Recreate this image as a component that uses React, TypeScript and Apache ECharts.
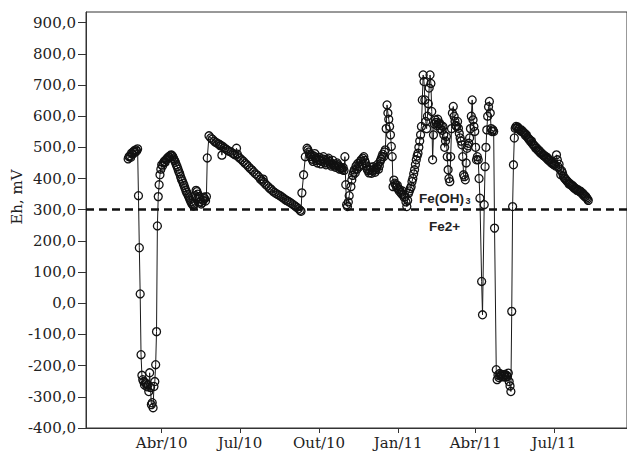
import React, { useEffect, useRef } from 'react';
import * as echarts from 'echarts';

// Day offsets since 2010-01-01 and Eh readings (mV)
const days = [
  51, 52, 53, 54, 55, 56, 57, 58, 59, 60, 61, 62, 63, 64, 65, 66, 67, 68, 69, 70,
  71, 72, 73, 74, 75, 76, 77, 78, 79, 80, 81, 82, 83, 84, 85, 86, 87, 88, 89, 90,
  91, 92, 93, 94, 95, 96, 97, 98, 99, 100, 101, 102, 103, 104, 105, 106, 107, 108, 109, 110,
  111, 112, 113, 114, 115, 116, 117, 118, 119, 120, 121, 122, 123, 124, 125, 126, 127, 128, 129, 130,
  131, 132, 133, 134, 135, 136, 137, 138, 139, 140, 141, 142, 143, 145,
  147, 149, 151, 153, 155, 157, 158, 159, 160, 161, 163, 165, 167, 169, 171, 173, 175, 177, 178, 179,
  181, 183, 185, 187, 189, 191, 193, 195, 197, 199, 201, 203, 205, 207, 208, 209, 211, 213, 215, 217,
  219, 221, 223, 225, 227, 229, 231, 233, 235, 237, 239, 241, 243, 245, 247, 249, 251, 252,
  253, 255, 257, 259, 260, 261, 262, 263, 264, 265, 266, 267, 268, 269, 270, 271, 272, 273, 274, 275,
  276, 277, 278, 279, 280, 281, 282, 283, 284, 285, 286, 287, 288, 289, 290, 291, 292, 293, 294, 295,
  296, 297, 298, 299, 300, 301, 302, 303, 304, 305, 306,
  307, 308, 310, 311, 312, 313, 314, 315, 316, 317, 318, 319, 320, 321, 322, 323, 324, 325, 326, 327,
  328, 329, 330, 331, 332, 333, 334, 335, 336, 337, 338, 339, 340, 341, 342, 343, 344, 345, 346, 347,
  348, 349, 350, 351, 352, 353, 354, 355, 356, 357, 358, 359, 360, 361, 362, 363, 364, 365, 366, 367,
  368, 369, 370, 371, 372, 373, 374, 375, 376, 377, 378, 379, 380, 381, 382, 383, 384, 385, 386, 387,
  388, 389, 390, 391, 392, 393, 394,
  395, 396, 397, 398, 399, 400, 401, 402, 403, 404, 405, 406, 407, 408, 409, 410, 411, 412, 413, 414,
  415, 416, 417, 418, 419, 420, 421, 422, 423, 424, 425, 426, 427, 428, 429, 430, 431, 432, 433, 434,
  435, 436, 437, 438, 439, 440, 441, 442, 443, 444, 445, 446, 447, 448, 449, 450, 451, 452, 453, 454,
  455, 456, 457, 458, 459, 460, 462, 463, 465, 466, 467, 468, 469, 470, 471, 472, 473, 474, 475, 476,
  477, 479, 480, 481, 482, 483, 484, 485, 486, 487, 488, 489, 490, 491, 492, 493, 494, 495, 496, 497,
  498, 499, 500, 501,
  502, 503, 504, 505, 506, 507, 508, 509, 510, 511, 512, 513, 514, 515, 516, 517, 518, 519, 520, 521,
  522, 523, 524, 525, 526, 527, 528, 529, 530, 531, 532, 533, 534, 535, 536, 537, 538, 539, 540, 541,
  542, 543, 544, 545, 546, 547, 548, 549, 550, 551, 552, 553, 554, 555, 556, 557, 558, 559, 560, 561,
  562, 563, 564, 565, 566, 567, 568, 569, 570, 571, 572, 573, 574, 575, 576, 577, 578, 579, 580, 581,
  582, 583, 584, 585, 586,
];

const eh = [
  463, 470, 473, 468, 482, 478, 485, 489, 484, 492, 488, 495, 345, 178, 30, -165, -231, -245, -251, -262,
  -255, -258, -268, -262, -283, -223, -270, -325, -319, -335, -267, -251, -197, -91, 248, 342, 380, 412, 430, 444,
  440, 450, 455, 452, 460, 463, 466, 470, 468, 473, 476, 474, 470, 463, 458, 452, 444, 438, 430, 422,
  415, 406, 398, 392, 385, 378, 370, 362, 356, 350, 344, 338, 331, 325, 320, 316, 312, 318, 345, 362,
  358, 350, 342, 335, 325, 318, 322, 330, 340, 335, 328, 342, 466, 537,
  530, 526, 520, 516, 512, 510, 505, 506, 475, 503, 498, 494, 490, 487, 484, 480, 476, 497, 478, 470,
  465, 460, 455, 449, 444, 438, 432, 427, 421, 415, 411, 405, 398, 392, 398, 388, 381, 376, 370, 366,
  360, 356, 352, 349, 346, 342, 338, 334, 330, 327, 324, 320, 316, 312, 308, 303, 298, 295,
  354, 412, 470, 497, 492, 485, 478, 470, 476, 462, 455, 472, 480, 466, 458, 450, 462, 468, 458, 447,
  455, 463, 470, 460, 450, 444, 452, 460, 465, 455, 446, 440, 448, 458, 445, 440, 436, 442, 450, 444,
  438, 430, 436, 432, 428, 435, 426, 470, 380, 316, 310,
  325, 345, 374, 395, 410, 420, 428, 418, 440, 430, 448, 440, 438, 455, 460, 445, 465, 470, 458, 450,
  440, 430, 425, 418, 428, 436, 417, 425, 438, 430, 420, 428, 436, 445, 430, 440, 455, 462, 470, 478,
  470, 485, 492, 560, 636, 610, 590, 567, 540, 503, 470, 374, 395, 385, 380, 372, 378, 368, 360, 364,
  355, 350, 360, 348, 340, 342, 325, 310, 330, 353, 360, 368, 374, 390, 400, 415, 428, 445, 460, 472,
  481, 500, 520, 540, 567, 652, 732,
  711, 652, 583, 560, 600, 640, 690, 732, 705, 615, 460, 540, 575, 588, 580, 570, 590, 575, 578, 560,
  570, 555, 567, 540, 500, 520, 535, 470, 428, 400, 390, 470, 560, 610, 631, 600, 583, 570, 567, 583,
  561, 545, 530, 520, 508, 470, 412, 406, 396, 450, 497, 505, 513, 530, 560, 600, 652, 588, 567, 551,
  500, 460, 470, 460, 400, 337, 70, -37, 316, 438, 500, 556, 600, 630, 647, 610, 560, 551, 556, 551,
  241, -213, -245, -230, -238, -225, -233, -228, -236, -230, -234, -228, -237, -231, -235, -224, -251, -265, -283, -26,
  310, 444, 530, 561,
  567, 562, 565, 560, 558, 553, 556, 550, 551, 546, 545, 538, 540, 533, 530, 526, 524, 518, 520, 512,
  508, 506, 503, 497, 498, 492, 488, 490, 484, 480, 481, 476, 473, 474, 470, 466, 468, 462, 458, 460,
  454, 450, 452, 447, 444, 446, 440, 476, 460, 438, 446, 430, 412, 425, 418, 408, 402, 400, 396, 392,
  390, 386, 382, 383, 379, 376, 377, 372, 368, 369, 366, 362, 364, 360, 358, 359, 355, 350, 352, 346,
  342, 343, 338, 334, 330,
];

const tickDates = ['2010-04-01', '2010-07-01', '2010-10-01', '2011-01-01', '2011-04-01', '2011-07-01'];
const tickLabels = ['Abr/10', 'Jul/10', 'Out/10', 'Jan/11', 'Abr/11', 'Jul/11'];
const yTicks = [-400, -300, -200, -100, 0, 100, 200, 300, 400, 500, 600, 700, 800, 900];
const boundaryEh = 300;
const upperLabel = 'Fe(OH)';
const upperSub = '3';
const lowerLabel = 'Fe2+';
const yName = 'Eh, mV';

const dayOf = (s: string) => {
  const [y, m, d] = s.split('-').map(Number);
  return (Date.UTC(y, m - 1, d) - Date.UTC(2010, 0, 1)) / 86400000;
};

export default function App() {
  const ref = useRef<HTMLDivElement>(null);
  useEffect(() => {
    if (!ref.current) return;
    const chart = echarts.init(ref.current, null, { renderer: 'svg' });
    const tickDays = tickDates.map(dayOf);
    const axisColor = '#333';
    const serif = '"DejaVu Serif", serif';
    chart.setOption({
      animation: false,
      backgroundColor: '#fff',
      grid: {
        left: 86, right: -2, top: 12, bottom: 24,
        show: true, borderColor: axisColor, borderWidth: 1, backgroundColor: 'transparent',
      },
      xAxis: {
        type: 'value', min: 2, max: 631,
        splitLine: { show: false },
        axisLine: { show: true, onZero: false, lineStyle: { color: axisColor, width: 1 } },
        axisTick: { show: true, length: 5, customValues: tickDays, lineStyle: { color: axisColor } },
        axisLabel: {
          customValues: tickDays,
          margin: 7,
          color: '#222', fontFamily: serif, fontSize: 15,
          formatter: (v: number) => {
            const i = tickDays.findIndex((d) => Math.abs(d - v) < 0.5);
            return i >= 0 ? tickLabels[i] : '';
          },
        },
      },
      yAxis: {
        type: 'value', min: -400, max: 934,
        splitLine: { show: false },
        axisLine: { show: true, onZero: false, lineStyle: { color: axisColor, width: 1 } },
        axisTick: { show: true, length: 8, customValues: yTicks, lineStyle: { color: axisColor } },
        axisLabel: {
          customValues: yTicks,
          margin: 10,
          color: '#222', fontFamily: serif, fontSize: 15,
          formatter: (v: number) => (v % 100 === 0 ? v.toFixed(1).replace('.', ',') : ''),
        },
      },
      series: [
        {
          type: 'line',
          data: days.map((d, i) => [d, eh[i]]),
          symbol: 'circle',
          symbolSize: 8,
          itemStyle: { color: 'rgba(0,0,0,0)', borderColor: '#111', borderWidth: 1.3 },
          lineStyle: { color: '#1a1a1a', width: 1 },
          markLine: {
            silent: true,
            symbol: 'none',
            label: { show: false },
            lineStyle: { color: '#111', width: 2.5, type: [8, 5] },
            data: [{ yAxis: boundaryEh }],
          },
        },
      ],
      graphic: [
        {
          type: 'text', x: 17, y: 197, rotation: Math.PI / 2,
          style: { text: yName, font: '15px "DejaVu Serif"', fill: '#222', align: 'center', verticalAlign: 'middle' },
        },
        {
          type: 'text', x: 419, y: 198,
          style: { text: upperLabel, font: 'bold 13.5px "Liberation Sans"', fill: '#222', align: 'left', verticalAlign: 'middle' },
        },
        {
          type: 'text', x: 465.5, y: 201,
          style: { text: upperSub, font: 'bold 9px "Liberation Sans"', fill: '#222', align: 'left', verticalAlign: 'middle' },
        },
        {
          type: 'text', x: 429, y: 226,
          style: { text: lowerLabel, font: 'bold 13.5px "Liberation Sans"', fill: '#222', align: 'left', verticalAlign: 'middle' },
        },
      ],
    });
    return () => chart.dispose();
  }, []);
  return <div ref={ref} style={{ position: 'fixed', left: 0, top: 0, width: 627, height: 452 }} />;
}
